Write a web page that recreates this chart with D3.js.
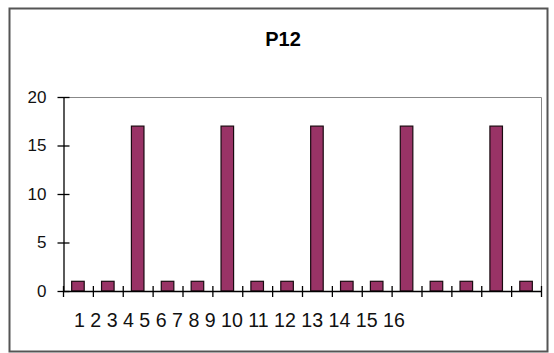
<!DOCTYPE html>
<html lang="en">
  <head>
    <meta charset="utf-8" />
    <title>P12</title>
    <script src="https://cdn.jsdelivr.net/npm/d3@7"></script>
    <style>
      body { margin: 0; background: #fff; }
      text { font-family: "Liberation Sans", Arial, sans-serif; }
    </style>
  </head>
  <body>
    <script>
      // data
      var categories = d3.range(1, 17);
      var values = [1, 1, 17, 1, 1, 17, 1, 1, 17, 1, 1, 17, 1, 1, 17, 1];
      var tickLabels = ["1", "2", "3", "4", "5", "6", "7", "8", "9", "10", "11", "12", "13", "14", "15", "16"];
      var yTicks = [0, 5, 10, 15, 20];

      var width = 554, height = 353;
      var plot = { left: 63, right: 541, top: 97, bottom: 291 };

      var svg = d3.select("body").append("svg")
        .attr("width", width)
        .attr("height", height);

      // outer frame
      svg.append("rect")
        .attr("x", 9.5).attr("y", 8.5)
        .attr("width", 538).attr("height", 343)
        .attr("fill", "none")
        .attr("stroke", "#555")
        .attr("stroke-width", 2);

      svg.append("text")
        .attr("x", 283).attr("y", 46)
        .attr("text-anchor", "middle")
        .attr("font-size", 20)
        .attr("font-weight", "bold")
        .text("P12");

      var x = d3.scaleBand()
        .domain(categories)
        .range([plot.left, plot.right])
        .paddingInner(0.58)
        .paddingOuter(0.29);

      var y = d3.scaleLinear()
        .domain([0, 20])
        .range([plot.bottom, plot.top]);

      // plot area frame (top and right)
      svg.append("path")
        .attr("d", "M" + plot.left + "," + (y(20) + 0.5) + "H" + (plot.right + 0.5) + "V" + plot.bottom)
        .attr("fill", "none")
        .attr("stroke", "#888")
        .attr("stroke-width", 1);

      svg.selectAll(".bar")
        .data(values)
        .enter()
        .append("rect")
        .attr("class", "bar")
        .attr("x", function (d, i) { return x(categories[i]); })
        .attr("y", function (d) { return y(d); })
        .attr("width", x.bandwidth())
        .attr("height", function (d) { return y(0) - y(d); })
        .attr("fill", "#993366")
        .attr("stroke", "#1a0a10")
        .attr("stroke-width", 1.2);

      // y axis
      var yAxis = svg.append("g")
        .attr("transform", "translate(" + (plot.left + 0.5) + ",0)")
        .call(d3.axisLeft(y).tickValues(yTicks).tickSizeInner(6).tickSizeOuter(0).tickPadding(11));
      yAxis.select(".domain").attr("stroke", "#000").attr("stroke-width", 1.3);
      yAxis.selectAll(".tick line").attr("x1", 6).attr("stroke-width", 1.3);
      yAxis.selectAll(".tick text")
        .attr("font-size", 17)
        .attr("font-family", "Liberation Sans, Arial, sans-serif")
        .attr("fill", "#111");

      // x axis: baseline with category boundary ticks
      var step = x.step();
      var bounds = categories.map(function (c) { return x(c) - x.paddingOuter() * step; })
        .concat([plot.right]);
      svg.append("line")
        .attr("x1", plot.left).attr("x2", plot.right)
        .attr("y1", y(0) + 0.5).attr("y2", y(0) + 0.5)
        .attr("stroke", "#000").attr("stroke-width", 1.3);
      svg.selectAll(".xtick")
        .data(bounds)
        .enter()
        .append("line")
        .attr("class", "xtick")
        .attr("x1", function (d) { return d + 0.5; })
        .attr("x2", function (d) { return d + 0.5; })
        .attr("y1", y(0) - 5).attr("y2", y(0) + 6)
        .attr("stroke", "#000").attr("stroke-width", 1.3);

      // tick labels, crowded to the left as in the original
      svg.append("text")
        .attr("x", 74).attr("y", 327)
        .attr("font-size", 19.6)
        .attr("fill", "#111")
        .text(tickLabels.join(" "));
    </script>
  </body>
</html>
